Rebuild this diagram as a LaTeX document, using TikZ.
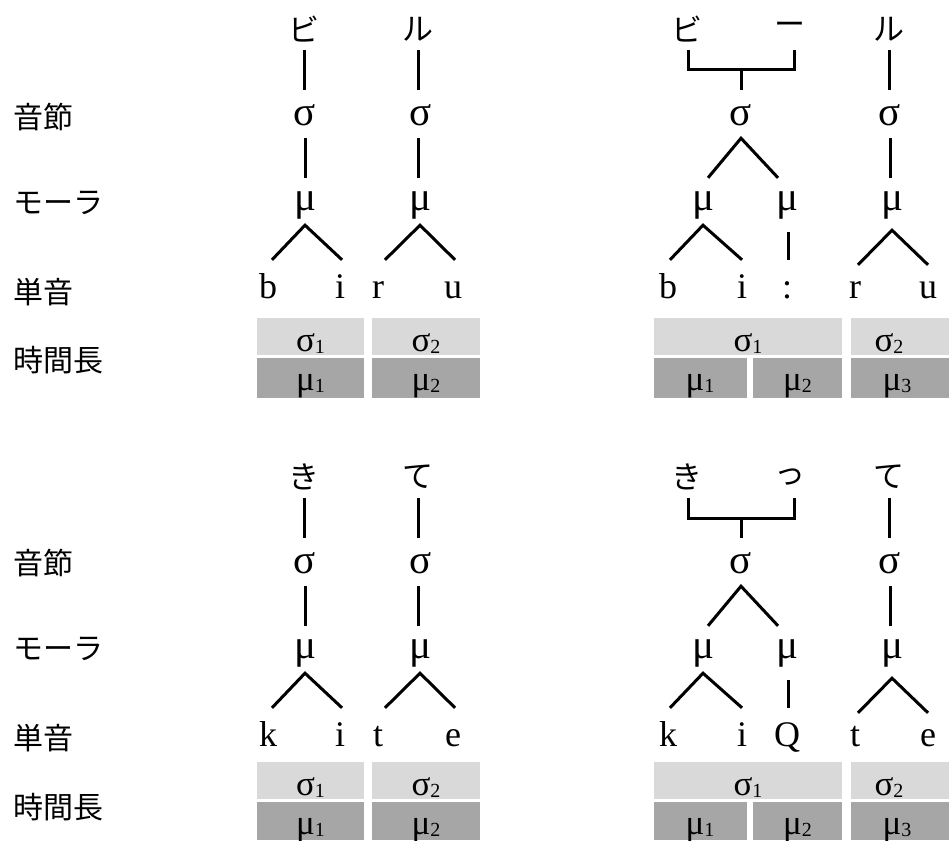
\documentclass[tikz,border=0pt]{standalone}
\usepackage{fontspec}
\setmainfont{Liberation Serif}
\newfontfamily\jp{Noto Sans CJK JP}
\definecolor{lg}{RGB}{217,217,217}
\definecolor{dg}{RGB}{166,166,166}
\tikzset{
  ln/.style={line width=3pt},
  kana/.style={font=\jp\fontsize{31}{31}\selectfont, inner sep=0pt, minimum height=42pt},
  syl/.style={font=\fontsize{41}{41}\selectfont, inner sep=0pt, text height=35pt, text depth=13pt, anchor=base},
  mor/.style={font=\fontsize{41}{41}\selectfont, inner sep=0pt, text height=32pt, text depth=15pt, anchor=base},
  seg/.style={font=\fontsize{36}{36}\selectfont, inner sep=0pt, text height=38pt, text depth=8pt, anchor=base},
  lab/.style={font=\jp\fontsize{30}{30}\selectfont, inner sep=0pt, anchor=west},
  sbox/.style={fill=lg, inner sep=0pt, anchor=north west},
  mbox/.style={fill=dg, inner sep=0pt, anchor=north west},
  btxt/.style={font=\fontsize{35}{35}\selectfont, inner sep=0pt, anchor=base},
}
\newcommand\mysub[1]{\raisebox{-0.06em}{\fontsize{20}{20}\selectfont #1}}
\newcommand\mybox[6]{%
  \pgfmathsetmacro\bw{#5-#3}\pgfmathsetmacro\bh{#6-#4}%
  \node[#2, minimum width=\bw pt, minimum height=\bh pt] (#1) at (#3,#4) {};}
% left panel: prefix, kanaA, kanaB, a, b, c, d
\newcommand\leftpanel[7]{%
  \node[kana] (#1kA) at (304,29) {#2};
  \node[kana] (#1kB) at (418,29) {#3};
  \node[syl] (#1sA) at (305,125) {σ};
  \node[syl] (#1sB) at (421,125) {σ};
  \node[mor] (#1mA) at (305,210) {μ};
  \node[mor] (#1mB) at (420,210) {μ};
  \node[seg] (#1a) at (268,298) {#4};
  \node[seg] (#1b) at (340,298) {#5};
  \node[seg] (#1c) at (378,298) {#6};
  \node[seg] (#1d) at (453,298) {#7};
  \draw[ln] (#1kA.south) -- (#1kA.south |- #1sA.north);
  \draw[ln] (#1kB.south) -- (#1kB.south |- #1sB.north);
  \draw[ln] (#1sA.south) -- (#1sA.south |- #1mA.north);
  \draw[ln] (#1mB.north -| #1kB.south) -- (#1sB.south -| #1kB.south);
  \draw[ln] ([xshift=4pt]#1a.north) -- (#1mA.south) -- ([xshift=2pt]#1b.north);
  \draw[ln] ([xshift=7pt]#1c.north) -- (#1mB.south) -- ([xshift=2pt]#1d.north);
}
% right panel: prefix, kanaA, kanaB, kanaC, a, b, c, d, e
\newcommand\rightpanel[9]{%
  \node[kana] (#1kA) at (687,29) {#2};
  \node[kana] (#1kB) at (790,29) {#3};
  \node[kana] (#1kC) at (889,29) {#4};
  \coordinate (#1j) at (741,70);
  \node[syl] (#1sA) at (741,125) {σ};
  \node[syl] (#1sB) at (890,125) {σ};
  \node[mor] (#1mA) at (703,210) {μ};
  \node[mor] (#1mB) at (787,210) {μ};
  \node[mor] (#1mC) at (892,210) {μ};
  \node[seg] (#1a) at (668,298) {#5};
  \node[seg] (#1b) at (742,298) {#6};
  \node[seg] (#1c) at (787,298) {#7};
  \node[seg] (#1d) at (855,298) {#8};
  \node[seg] (#1e) at (928,298) {#9};
  \draw[ln] ([xshift=1pt]#1kA.south) |- (#1j) -| ([xshift=4pt]#1kB.south);
  \draw[ln] (#1j) -- (#1sA.north);
  \draw[ln] (#1kC.south) -- (#1kC.south |- #1sB.north);
  \draw[ln] ([xshift=5pt]#1mA.north) -- (#1sA.south) -- ([xshift=-9pt]#1mB.north);
  \draw[ln] (#1sB.south) -- (#1sB.south |- #1mC.north);
  \draw[ln] ([xshift=2pt]#1a.north) -- (#1mA.south) -- (#1b.north);
  \draw[ln] ([xshift=1pt,yshift=-7pt]#1mB.south) -- ([xshift=1pt]#1mB.south |- #1c.north);
  \draw[ln] ([xshift=3pt,yshift=-5pt]#1d.north) -- ([yshift=-5pt]#1mC.south) -- ([yshift=-5pt]#1e.north);
}
\begin{document}
\begin{tikzpicture}[x=1pt,y=-1pt]
\useasboundingbox (0,0) rectangle (949,840);
% labels
\node[lab] (l1) at (13,117) {音節};
\node[lab] (l2) at (13,203) {モーラ};
\node[lab] (l3) at (13,292) {単音};
\node[lab] (l4) at (13,360) {時間長};
\node[lab] (l5) at (13,563) {音節};
\node[lab] (l6) at (13,649) {モーラ};
\node[lab] (l7) at (13,738) {単音};
\node[lab] (l8) at (13,807) {時間長};
% trees
\leftpanel{A}{ビ}{ル}{b}{i}{r}{u}
\rightpanel{B}{ビ}{ー}{ル}{b}{i}{:}{r}{u}
\begin{scope}[shift={(0,448)}]
\leftpanel{C}{き}{て}{k}{i}{t}{e}
\rightpanel{D}{き}{っ}{て}{k}{i}{Q}{t}{e}
\end{scope}
% boxes top
\mybox{bA1}{sbox}{257}{318}{364}{355}
\mybox{bA2}{sbox}{372}{318}{480}{355}
\mybox{bA3}{mbox}{257}{358}{364}{398}
\mybox{bA4}{mbox}{372}{358}{480}{398}
\mybox{bB1}{sbox}{654}{318}{842}{355}
\mybox{bB2}{sbox}{851}{318}{949}{355}
\mybox{bB3}{mbox}{654}{358}{747}{398}
\mybox{bB4}{mbox}{753}{358}{842}{398}
\mybox{bB5}{mbox}{851}{358}{949}{398}
\node[btxt] (tA1) at (310.5,351) {σ\mysub{1}};
\node[btxt] (tA2) at (426,351) {σ\mysub{2}};
\node[btxt] (tA3) at (310.5,390) {μ\mysub{1}};
\node[btxt] (tA4) at (426,390) {μ\mysub{2}};
\node[btxt] (tB1) at (748,351) {σ\mysub{1}};
\node[btxt] (tB2) at (889,351) {σ\mysub{2}};
\node[btxt] (tB3) at (700,390) {μ\mysub{1}};
\node[btxt] (tB4) at (797.5,390) {μ\mysub{2}};
\node[btxt] (tB5) at (897,390) {μ\mysub{3}};
% boxes bottom
\mybox{bC1}{sbox}{257}{762}{364}{799}
\mybox{bC2}{sbox}{372}{762}{480}{799}
\mybox{bC3}{mbox}{257}{802}{364}{840}
\mybox{bC4}{mbox}{372}{802}{480}{840}
\mybox{bD1}{sbox}{654}{762}{842}{799}
\mybox{bD2}{sbox}{851}{762}{949}{799}
\mybox{bD3}{mbox}{654}{802}{747}{840}
\mybox{bD4}{mbox}{753}{802}{842}{840}
\mybox{bD5}{mbox}{851}{802}{949}{840}
\node[btxt] (tC1) at (310.5,795) {σ\mysub{1}};
\node[btxt] (tC2) at (426,795) {σ\mysub{2}};
\node[btxt] (tC3) at (310.5,834) {μ\mysub{1}};
\node[btxt] (tC4) at (426,834) {μ\mysub{2}};
\node[btxt] (tD1) at (748,795) {σ\mysub{1}};
\node[btxt] (tD2) at (889,795) {σ\mysub{2}};
\node[btxt] (tD3) at (700,834) {μ\mysub{1}};
\node[btxt] (tD4) at (797.5,834) {μ\mysub{2}};
\node[btxt] (tD5) at (897,834) {μ\mysub{3}};
\end{tikzpicture}
\end{document}
